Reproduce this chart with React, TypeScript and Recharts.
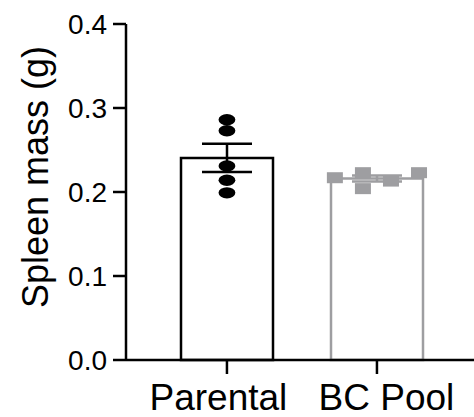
import { ComposedChart, Bar, Scatter, XAxis, YAxis, ErrorBar, Label } from 'recharts';

const groups = ['Parental', 'BC Pool'];
const parentalMass = [0.286, 0.273, 0.231, 0.214, 0.199];
const bcPoolMass = [0.217, 0.223, 0.204, 0.213, 0.223];
const yTicks = [0, 0.1, 0.2, 0.3, 0.4];

// side-by-side columns for points that would overlap (in units of one column)
const parentalSlots = [0, 0, 0, 0, 0];
const bcPoolSlots = [-1.5, -0.5, -0.5, 0.5, 1.5];
const SLOT = 0.187;
// group labels sit a little off their tick marks
const labelShift = [-8.5, 9.5];

const BLACK = '#000000';
const GRAY = '#9e9ea1';
const FONT = '"Liberation Sans", Arial, Helvetica, sans-serif';

const mean = (v: number[]) => v.reduce((a, b) => a + b, 0) / v.length;
const sem = (v: number[]) => {
  const m = mean(v);
  const sd = Math.sqrt(v.reduce((a, b) => a + (b - m) ** 2, 0) / (v.length - 1));
  return sd / Math.sqrt(v.length);
};

const barData = [
  { group: groups[0], parental: mean(parentalMass), parentalErr: sem(parentalMass) },
  { group: groups[1], bcPool: mean(bcPoolMass), bcPoolErr: sem(bcPoolMass) },
];

const toPoints = (values: number[], slots: number[], group: number) =>
  values.map((mass, i) => ({ pos: group + slots[i] * SLOT, mass }));

const parentalPoints = toPoints(parentalMass, parentalSlots, 0);
const bcPoolPoints = toPoints(bcPoolMass, bcPoolSlots, 1);

const Dot = (props: any) => <ellipse cx={props.cx} cy={props.cy} rx={8.4} ry={5.7} fill={BLACK} />;
const Square = (props: any) => (
  <rect x={props.cx - 8} y={props.cy - 5.5} width={16} height={11} fill={GRAY} />
);

const GroupTick = (props: any) => {
  const i = props.payload.value as number;
  return (
    <text
      x={props.x + (labelShift[i] ?? 0)}
      y={props.y}
      dy="0.71em"
      textAnchor="middle"
      fontSize={37}
      fontFamily={FONT}
      fill={BLACK}
    >
      {groups[i]}
    </text>
  );
};

const YTitle = () => (
  <text
    x={48}
    y={177}
    transform="rotate(-90 48 177)"
    textAnchor="middle"
    fontSize={36}
    fontFamily={FONT}
    fill={BLACK}
  >
    Spleen mass (g)
  </text>
);

export default function App() {
  return (
    <div style={{ position: 'absolute', left: 0, top: 0, background: '#fff' }}>
      <ComposedChart
        width={474}
        height={417}
        data={barData}
        margin={{ top: 24, right: 0, bottom: 0, left: 0 }}
      >
        {/* band axis that places the bars */}
        <XAxis xAxisId="bars" dataKey="group" hide padding={{ left: 26, right: 22 }} />
        <XAxis
          type="number"
          dataKey="pos"
          domain={[-0.673, 1.647]}
          allowDataOverflow
          ticks={[0, 1]}
          height={57}
          tickSize={14}
          tickMargin={10}
          axisLine={{ stroke: BLACK, strokeWidth: 2.5 }}
          tickLine={{ stroke: BLACK, strokeWidth: 2.5 }}
          tick={<GroupTick />}
        />
        <YAxis
          type="number"
          domain={[0, 0.4]}
          ticks={yTicks}
          tickFormatter={(v: number) => v.toFixed(1)}
          width={126}
          tickSize={13}
          tickMargin={6}
          axisLine={{ stroke: BLACK, strokeWidth: 2.5 }}
          tickLine={{ stroke: BLACK, strokeWidth: 2.5 }}
          tick={{ fill: BLACK, fontSize: 28, fontFamily: FONT }}
        >
          <Label content={<YTitle />} />
        </YAxis>
        <Bar
          xAxisId="bars"
          dataKey="parental"
          stackId="g"
          barSize={92}
          fill="#fff"
          stroke={BLACK}
          strokeWidth={2.5}
          isAnimationActive={false}
        >
          <ErrorBar dataKey="parentalErr" direction="y" width={25} stroke={BLACK} strokeWidth={2.5} />
        </Bar>
        <Bar
          xAxisId="bars"
          dataKey="bcPool"
          stackId="g"
          barSize={92}
          fill="#fff"
          stroke={GRAY}
          strokeWidth={2.5}
          isAnimationActive={false}
        >
          <ErrorBar dataKey="bcPoolErr" direction="y" width={25} stroke={GRAY} strokeWidth={2.5} />
        </Bar>
        <Scatter data={parentalPoints} dataKey="mass" shape={<Dot />} isAnimationActive={false} />
        <Scatter data={bcPoolPoints} dataKey="mass" shape={<Square />} isAnimationActive={false} />
      </ComposedChart>
    </div>
  );
}
